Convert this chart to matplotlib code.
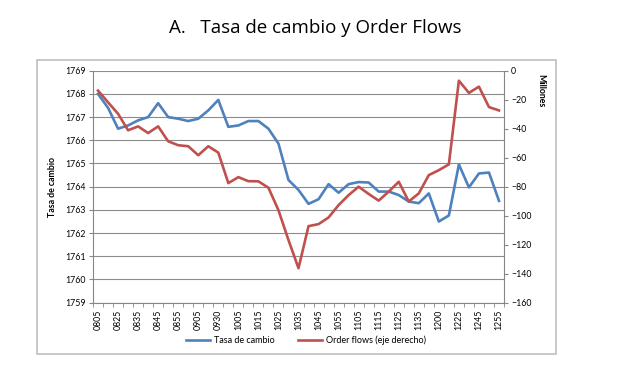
import matplotlib.pyplot as plt
from matplotlib.patches import Rectangle
from matplotlib.lines import Line2D

plt.rcParams['font.family'] = 'Lato'

# categories (only every other one is labelled in the chart)
horas = ['0805', '0815', '0825', '0830', '0835', '0840', '0845', '0850', '0855', '0900',
         '0905', '0920', '0930', '0945', '1005', '1010', '1015', '1020', '1025', '1030',
         '1035', '1040', '1045', '1050', '1055', '1100', '1105', '1110', '1115', '1120',
         '1125', '1130', '1135', '1145', '1200', '1210', '1225', '1235', '1245', '1250',
         '1255']

tasa_cambio = [1768.0, 1767.4, 1766.5, 1766.64, 1766.86, 1767.0, 1767.6, 1767.0, 1766.93, 1766.83,
               1766.93, 1767.29, 1767.74, 1766.58, 1766.64, 1766.83, 1766.83, 1766.5, 1765.86, 1764.29,
               1763.86, 1763.26, 1763.46, 1764.11, 1763.74, 1764.11, 1764.2, 1764.18, 1763.79, 1763.79,
               1763.64, 1763.36, 1763.29, 1763.71, 1762.5, 1762.76, 1764.96, 1763.97, 1764.57, 1764.61,
               1763.39]

order_flows = [-13.7, -21.8, -29.7, -41.1, -38.4, -43.0, -38.4, -48.7, -51.4, -52.1,
               -58.3, -52.1, -56.5, -77.5, -73.4, -76.2, -76.3, -80.7, -96.2, -116.8,
               -136.2, -107.2, -105.8, -101.2, -92.7, -85.8, -80.0, -85.0, -89.6, -83.4,
               -76.6, -90.2, -84.6, -72.0, -68.6, -64.6, -6.9, -15.3, -11.0, -25.1,
               -27.4]

azul = '#4F81BD'
rojo = '#C0504D'
gris = '#868686'

fig = plt.figure(figsize=(6.21, 3.68), dpi=100)
fig.patches.append(Rectangle((37 / 621, 1 - 354 / 368), 519 / 621, 294 / 368,
                             transform=fig.transFigure, fill=False,
                             edgecolor='#BFBFBF', linewidth=1.2))
fig.text(0.507, 0.925, 'A.   Tasa de cambio y Order Flows', ha='center', va='center',
         fontsize=13.5, family='Open Sans')

ax = fig.add_axes([93 / 621, 1 - 302.7 / 368, 411 / 621, 232 / 368])
x = list(range(len(horas)))
ax.plot(x, tasa_cambio, color=azul, lw=1.9)
ax.set_ylim(1759, 1769)
ax.set_yticks(range(1759, 1770))
ax.set_xlim(-0.5, len(horas) - 0.5)
ax.set_xticks(x[::2])
ax.set_xticklabels(horas[::2], rotation=90)
ax.set_xticks([i - 0.5 for i in range(len(horas) + 1)], minor=True)
ax.tick_params(axis='x', which='major', length=0, pad=5, labelsize=6.3)
ax.tick_params(axis='x', which='minor', length=3, color=gris, direction='out')
ax.tick_params(axis='y', length=3, color=gris, labelsize=6.3, pad=2)
ax.grid(axis='y', color='#8C8C8C', lw=0.8)
ax.set_axisbelow(True)
for s in ['left', 'bottom']:
    ax.spines[s].set_color(gris)
ax.spines['top'].set_visible(False)
ax.spines['right'].set_visible(False)
ax.set_ylabel('Tasa de cambio', fontsize=6.3, fontweight='bold', labelpad=6)

ax2 = ax.twinx()
ax2.plot(x, order_flows, color=rojo, lw=1.9)
ax2.set_ylim(-160, 0)
ax2.set_yticks(range(-160, 1, 20))
ax2.tick_params(axis='y', length=3, color=gris, labelsize=6.3, pad=2)
ax2.spines['right'].set_color(gris)
for s in ['left', 'top', 'bottom']:
    ax2.spines[s].set_visible(False)
fig.text(541 / 621, 1 - 91 / 368, 'Millones', rotation=270, ha='center', va='center',
         fontsize=6.3, fontweight='bold')

handles = [Line2D([], [], color=azul, lw=1.9), Line2D([], [], color=rojo, lw=1.9)]
fig.legend(handles, ['Tasa de cambio', 'Order flows (eje derecho)'], loc='center',
           bbox_to_anchor=(306 / 621, 1 - 340 / 368), ncol=2, frameon=False,
           fontsize=6.5, handlelength=2.7, handletextpad=0.4, columnspacing=2.6)

fig.savefig('out.png', dpi=100)
